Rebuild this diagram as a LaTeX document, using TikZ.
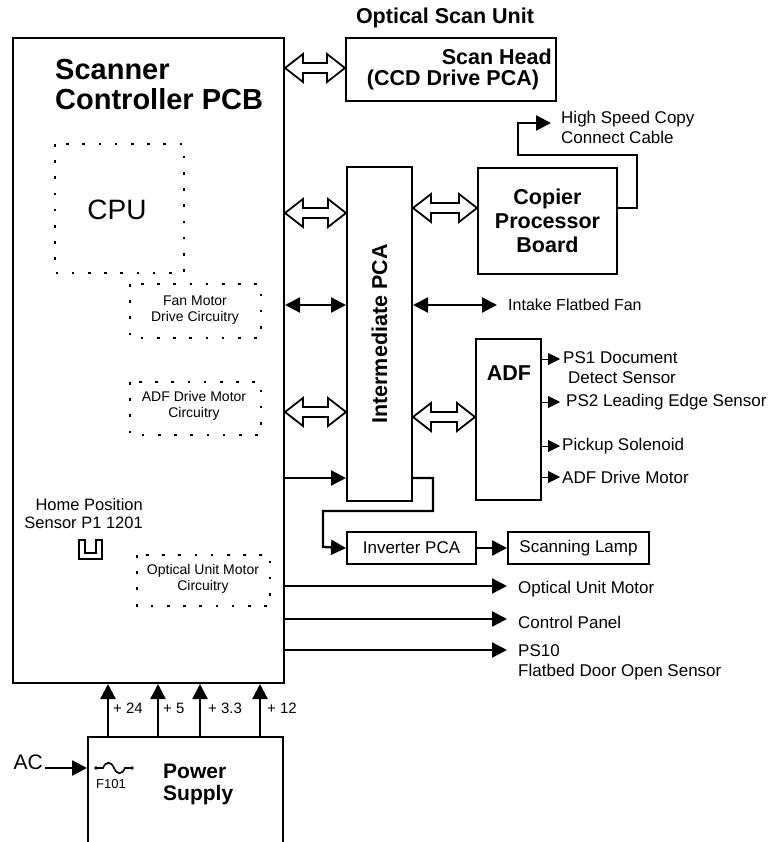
\documentclass[tikz,border=0pt]{standalone}
\usepackage{fontspec}
\setmainfont{Liberation Sans}
\usetikzlibrary{arrows.meta,calc}
\newcommand{\hollowarr}[2]{%
  \draw[hollowline] let \p1=(#1), \p2=(#2) in
    (\x1,\y1) -- (\x1+18pt,\y1+14pt) -- (\x1+18pt,\y1+5pt) -- (\x2-18pt,\y2+5pt)
    -- (\x2-18pt,\y2+14pt) -- (\x2,\y2) -- (\x2-18pt,\y2-14pt) -- (\x2-18pt,\y2-5pt)
    -- (\x1+18pt,\y1-5pt) -- (\x1+18pt,\y1-14pt) -- cycle;}
\begin{document}
\begin{tikzpicture}[x=1pt,y=-1pt,
  box/.style={draw, line width=2pt, inner sep=0pt, anchor=north west},
  dotbox/.style={line width=2.6pt, dash pattern=on 2.6pt off 13.6pt},
  hollowline/.style={line width=1.8pt, fill=white, line join=miter},
  arr/.style={line width=2.3pt, -{Triangle[length=15pt,width=15pt]}},
  darr/.style={line width=2.3pt, {Triangle[length=15pt,width=15pt]}-{Triangle[length=15pt,width=15pt]}},
  sarr/.style={line width=1pt, -{Triangle[length=12pt,width=12pt]}},
  txt/.style={inner sep=0pt, font=\fontsize{17}{20}\selectfont},
  small/.style={inner sep=0pt, align=center, font=\fontsize{14}{16}\selectfont},
  bold/.style={inner sep=0pt, font=\fontsize{21.5}{24}\selectfont\bfseries},
]
\useasboundingbox (0,0) rectangle (772,842);
\clip (0,0) rectangle (772,842);

% boxes
\node[box, minimum width=271pt, minimum height=645pt] (pcb) at (12,37) {};
\node[box, minimum width=210pt, minimum height=63pt] (scan) at (345,37) {};
\node[box, minimum width=65pt, minimum height=334pt] (inter) at (346,166) {};
\node[box, minimum width=139pt, minimum height=106pt] (cop) at (477,167) {};
\node[box, minimum width=65pt, minimum height=161pt] (adf) at (475,338) {};
\node[box, minimum width=129pt, minimum height=32pt] (inv) at (346,531) {};
\node[box, minimum width=141pt, minimum height=32pt] (lamp) at (507,531) {};
\node[box, minimum width=195pt, minimum height=150pt] (psu) at (87,736) {};

% dotted regions
\draw[dotbox] (55,144) rectangle (184,273);
\draw[dotbox] (130,284) rectangle (261,338);
\draw[dotbox] (130,382) rectangle (261,435);
\draw[dotbox] (137,555) rectangle (270,606);

% texts
\node[bold] (osu) at (445,18) {Optical Scan Unit};
\node[bold, anchor=east] (sh1) at (552,57) {Scan Head};
\node[bold] (sh2) at (453,80) {(CCD Drive PCA)};
\node[inner sep=0pt, anchor=west, align=left, font=\fontsize{29}{30}\selectfont\bfseries] (title) at (55,85) {Scanner\\Controller PCB};
\node[inner sep=0pt, font=\fontsize{28}{30}\selectfont] (cpu) at (117,210) {CPU};
\node[small] (fan) at (195,310) {Fan Motor\\Drive Circuitry};
\node[small] (adfc) at (194,406) {ADF Drive Motor\\Circuitry};
\node[small] (optc) at (203,579) {Optical Unit Motor\\Circuitry};
\node[txt, anchor=east, align=right, font=\fontsize{16.5}{18}\selectfont] (home) at (143,514) {Home Position\\Sensor P1 1201};
\node[bold, rotate=90] (intert) at (inter.center) {Intermediate PCA};
\node[bold, align=center, font=\fontsize{21.5}{24}\selectfont\bfseries] (copt) at (cop.center) {Copier\\Processor\\Board};
\node[txt, anchor=west, align=left] (hsc) at (561,127) {High Speed Copy\\Connect Cable};
\node[txt, anchor=west, font=\fontsize{16}{18}\selectfont] (fant) at (508,305) {Intake Flatbed Fan};
\node[bold] (adft) at (509,373) {ADF};
\node[txt, anchor=west, align=left] (ps1) at (563,368) {PS1 Document\\\hspace*{5pt}Detect Sensor};
\node[txt, anchor=west] (ps2) at (566,402) {PS2 Leading Edge Sensor};
\node[txt, anchor=west] (pick) at (562,446) {Pickup Solenoid};
\node[txt, anchor=west] (adfm) at (562,477) {ADF Drive Motor};
\node[txt] (invt) at (inv.center) {Inverter PCA};
\node[txt] (lampt) at (lamp.center) {Scanning Lamp};
\node[txt, anchor=west] (optm) at (518,589) {Optical Unit Motor};
\node[txt, anchor=west] (ctrl) at (518,622) {Control Panel};
\node[txt, anchor=west, align=left] (ps10) at (518,662) {PS10\\Flatbed Door Open Sensor};
\node[txt, anchor=west, font=\fontsize{15}{17}\selectfont] (v24) at (113,708) {+ 24};
\node[txt, anchor=west, font=\fontsize{15}{17}\selectfont] (v5) at (163,708) {+ 5};
\node[txt, anchor=west, font=\fontsize{15}{17}\selectfont] (v33) at (208,708) {+ 3.3};
\node[txt, anchor=west, font=\fontsize{15}{17}\selectfont] (v12) at (267,708) {+ 12};
\node[txt, anchor=east, font=\fontsize{21}{23}\selectfont] (ac) at (43,762) {AC};
\node[txt, anchor=west, font=\fontsize{13}{15}\selectfont] (f101) at (96,784) {F101};
\node[bold, anchor=west, align=left, font=\fontsize{21}{22}\selectfont\bfseries] (pst) at (163,784) {Power\\Supply};

% hollow double arrows
\hollowarr{pcb.east |- 0,68}{scan.west |- 0,68}
\hollowarr{pcb.east |- 0,213}{inter.west |- 0,213}
\hollowarr{pcb.east |- 0,412}{inter.west |- 0,412}
\hollowarr{inter.east |- 0,208}{cop.west |- 0,208}
\hollowarr{inter.east |- 0,417}{adf.west |- 0,417}

% solid connectors
\coordinate (hsend) at (551,123);
\coordinate (fanend) at (497,305);
\draw[darr] (pcb.east |- 0,305) -- (inter.west |- 0,305);
\draw[darr] (inter.east |- 0,305) -- (fanend);
\draw[arr] (pcb.east |- 0,478) -- (inter.west |- 0,478);
\draw[arr] (inter.east |- 0,478) -- (433,478) -- (433,511) -- (323,511) -- (323,547) -- (inv.west);
\draw[arr] (inv.east) -- (lamp.west);
\draw[arr] (cop.east |- 0,208) -- (637,208) -- (637,155) -- (518,155) -- (518,123) -- (hsend);

\coordinate (e1) at (560,359);
\coordinate (e2) at (560,402);
\coordinate (e3) at (560,446);
\coordinate (e4) at (560,477);
\draw[sarr] (adf.east |- e1) -- (e1);
\draw[sarr] (adf.east |- e2) -- (e2);
\draw[sarr] (adf.east |- e3) -- (e3);
\draw[sarr] (adf.east |- e4) -- (e4);

\coordinate (o1) at (507,586);
\coordinate (o2) at (507,619);
\coordinate (o3) at (507,650);
\draw[arr] (pcb.east |- o1) -- (o1);
\draw[arr] (pcb.east |- o2) -- (o2);
\draw[arr] (pcb.east |- o3) -- (o3);

% power rails
\foreach \xx in {108,158,200,260} {
  \draw[arr] (psu.north -| \xx,0) -- (pcb.south -| \xx,0);
}
\coordinate (acstart) at (45,768);
\draw[arr] (acstart) -- (psu.west |- acstart);

% fuse
\fill (96,768) circle (1.9pt) (132,768) circle (1.9pt);
\draw[line width=1.6pt] (96,768) -- (103,768) .. controls (106,761) and (111,761) .. (114,768)
  .. controls (117,775) and (122,775) .. (125,768) -- (132,768);

% home position sensor symbol
\draw[line width=1.6pt, line join=miter] (79,540) -- (79,559) -- (102,559) -- (102,540) -- (96,540) -- (96,553) -- (85,553) -- (85,540) -- cycle;
\end{tikzpicture}
\end{document}
